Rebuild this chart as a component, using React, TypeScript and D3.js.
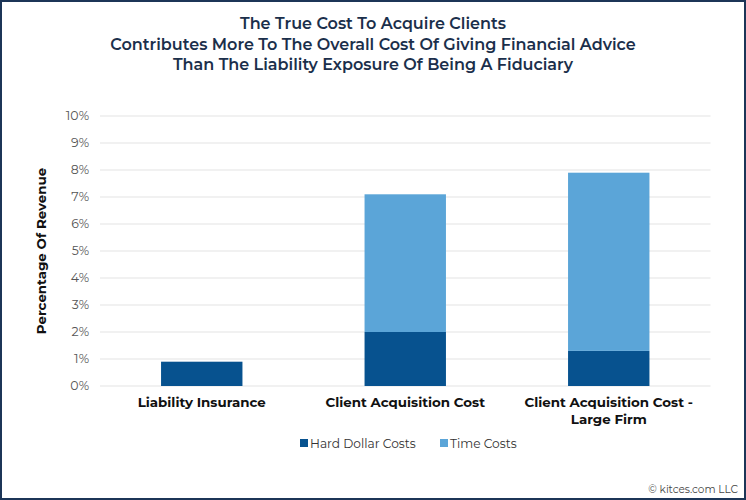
import React from "react";
import * as d3 from "d3";

const categories = ["Liability Insurance", "Client Acquisition Cost", "Client Acquisition Cost -\nLarge Firm"];
const hardDollar = [0.9, 2.0, 1.3];
const timeCosts = [0, 5.1, 6.6];
const seriesNames = ["Hard Dollar Costs", "Time Costs"];
const yTicks = [0, 1, 2, 3, 4, 5, 6, 7, 8, 9, 10];
const titleLines = [
  "The True Cost To Acquire Clients",
  "Contributes More To The Overall Cost Of Giving Financial Advice",
  "Than The Liability Exposure Of Being A Fiduciary",
];

const W = 746, H = 500;
const M = { left: 100, right: 35.5, top: 116, bottom: 114 };
const colors = ["#07528f", "#5ba5d8"];
const FONT = "Montserrat, 'Noto Sans', 'Open Sans', sans-serif";

export default function App() {
  const x = d3.scaleBand().domain(categories).range([M.left, W - M.right]).paddingInner(0.6).paddingOuter(0.3);
  const y = d3.scaleLinear().domain([0, 10]).range([H - M.bottom, M.top]);
  const rows = categories.map((c, i) => ({ cat: c, hard: hardDollar[i], time: timeCosts[i] }));
  const stack = d3.stack<any>().keys(["hard", "time"])(rows);

  return (
    <svg width={W} height={H} style={{ position: "absolute", left: 0, top: 0, fontFamily: FONT }}>
      <rect x={1} y={1} width={W - 2} height={H - 2} fill="#fff" stroke="#1c3557" strokeWidth={2} />
      {titleLines.map((t, i) => (
        <text key={i} x={W / 2} y={29 + i * 20.5} textAnchor="middle" fontSize={16} fontWeight={600} fill="#1b2f4b">{t}</text>
      ))}
      {yTicks.map((t) => (
        <g key={t}>
          <line x1={M.left} x2={W - M.right} y1={y(t)} y2={y(t)} stroke="#e3e3e3" strokeWidth={1} />
          <text x={89} y={y(t)} dy="0.35em" textAnchor="end" fontSize={12.5} fill="#555">{t}%</text>
        </g>
      ))}
      <text transform={`translate(46,${(y(0) + y(10)) / 2}) rotate(-90)`} textAnchor="middle" fontSize={13.4} fontWeight={700} fill="#111">Percentage Of Revenue</text>
      {stack.map((s, si) => (
        <g key={si} fill={colors[si]}>
          {s.map((d, i) => (
            d[1] - d[0] > 0 ? (
              <rect key={i} x={x(categories[i])} width={x.bandwidth()} y={y(d[1])} height={y(d[0]) - y(d[1])} />
            ) : null
          ))}
        </g>
      ))}
      {categories.map((c) => (
        <text key={c} x={(x(c) as number) + x.bandwidth() / 2} y={407} textAnchor="middle" fontSize={13.4} fontWeight={700} fill="#111">
          {c.split("\n").map((l, j) => (
            <tspan key={j} x={(x(c) as number) + x.bandwidth() / 2} dy={j === 0 ? 0 : 16.5}>{l}</tspan>
          ))}
        </text>
      ))}
      {seriesNames.map((n, i) => {
        const lx = [300, 440][i];
        return (
          <g key={n}>
            <rect x={lx} y={439} width={8} height={8} fill={colors[i]} />
            <text x={lx + 10} y={447.5} fontSize={12.2} fill="#333">{n}</text>
          </g>
        );
      })}
      <text x={738} y={493} textAnchor="end" fontSize={10.5} fill="#444">© kitces.com LLC</text>
    </svg>
  );
}
